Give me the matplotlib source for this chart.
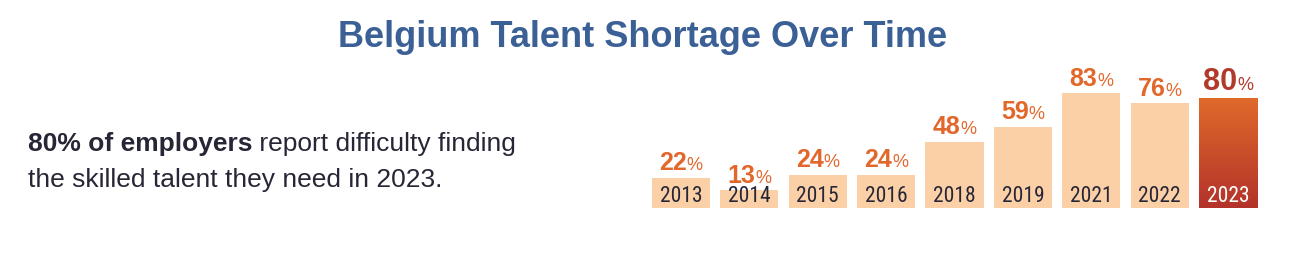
import matplotlib
matplotlib.use("Agg")
import matplotlib.pyplot as plt
import numpy as np
from matplotlib.colors import LinearSegmentedColormap

years = ["2013", "2014", "2015", "2016", "2018", "2019", "2021", "2022", "2023"]
shortage = [22, 13, 24, 24, 48, 59, 83, 76, 80]

TITLE = "Belgium Talent Shortage Over Time"
LINE1_BOLD = "80% of employers"
LINE1_REST = " report difficulty finding"
LINE2 = "the skilled talent they need in 2023."

NARROW = ["Roboto Condensed", "Archivo Narrow", "DejaVu Sans"]
SANS = ["Liberation Sans", "Arimo", "DejaVu Sans"]
PEACH = "#fcd0a6"
ORANGE = "#e2672b"
DARKRED = "#b23a2a"
INK = "#262636"

fig = plt.figure(figsize=(13, 2.61), dpi=100)
ax = fig.add_axes([0.4975, 0.203, 0.4734, 0.5287])
ax.axis("off")

x = np.arange(len(years))
bars = ax.bar(x, shortage, width=0.85, color=PEACH)

# last bar: vertical orange -> red gradient clipped to the bar
last = bars[-1]
last.set_facecolor("none")
grad = LinearSegmentedColormap.from_list("g", ["#b3332a", "#e06a2a"])
img = ax.imshow(np.linspace(0, 1, 100).reshape(-1, 1), cmap=grad, origin="lower",
                extent=[x[-1] - 0.425, x[-1] + 0.425, 0, shortage[-1]],
                aspect="auto", zorder=1)
img.set_clip_path(last)
ax.set_xlim(-0.5, 8.5)
ax.set_ylim(0, 100)

r = fig.canvas.get_renderer()

for i, (yr, v) in enumerate(zip(years, shortage)):
    is_last = i == len(years) - 1
    ax.annotate(yr, xy=(i, 0), xytext=(0, 6), textcoords="offset pixels",
                ha="center", va="baseline", fontsize=15.5,
                family=NARROW, color="white" if is_last else INK, zorder=3)
    col = DARKRED if is_last else ORANGE
    nsize = 22 if is_last else 18
    tn = ax.annotate(str(v), xy=(i, v), xytext=(0, 7.5), textcoords="offset pixels",
                     ha="left", va="baseline", fontsize=nsize, fontweight="bold",
                     family=SANS, color=col, zorder=3)
    tp = ax.annotate("%", xy=(i, v), xytext=(0, 7.5), textcoords="offset pixels",
                     ha="left", va="baseline", fontsize=13, family=SANS,
                     color=col, zorder=3)
    wn = tn.get_window_extent(r).width
    wp = tp.get_window_extent(r).width
    start = -(wn + wp) / 2
    tn.set_position((start, 7.5))
    tp.set_position((start + wn, 7.5))

fig.text(643 / 1300, 1 - 47 / 261, TITLE, ha="center", va="baseline", fontsize=26,
         fontweight="bold", family=SANS, color="#3b6096")

x0 = 28 / 1300
tb = fig.text(x0, 1 - 151 / 261, LINE1_BOLD, ha="left", va="baseline", fontsize=19,
              fontweight="bold", family=SANS, color=INK)
wb = tb.get_window_extent(r).width
fig.text(x0 + wb / 1300, 1 - 151 / 261, LINE1_REST, ha="left", va="baseline",
         fontsize=19, family=SANS, color=INK)
fig.text(x0, 1 - 187 / 261, LINE2, ha="left", va="baseline", fontsize=19,
         family=SANS, color=INK)

fig.savefig("out.png", dpi=100)
